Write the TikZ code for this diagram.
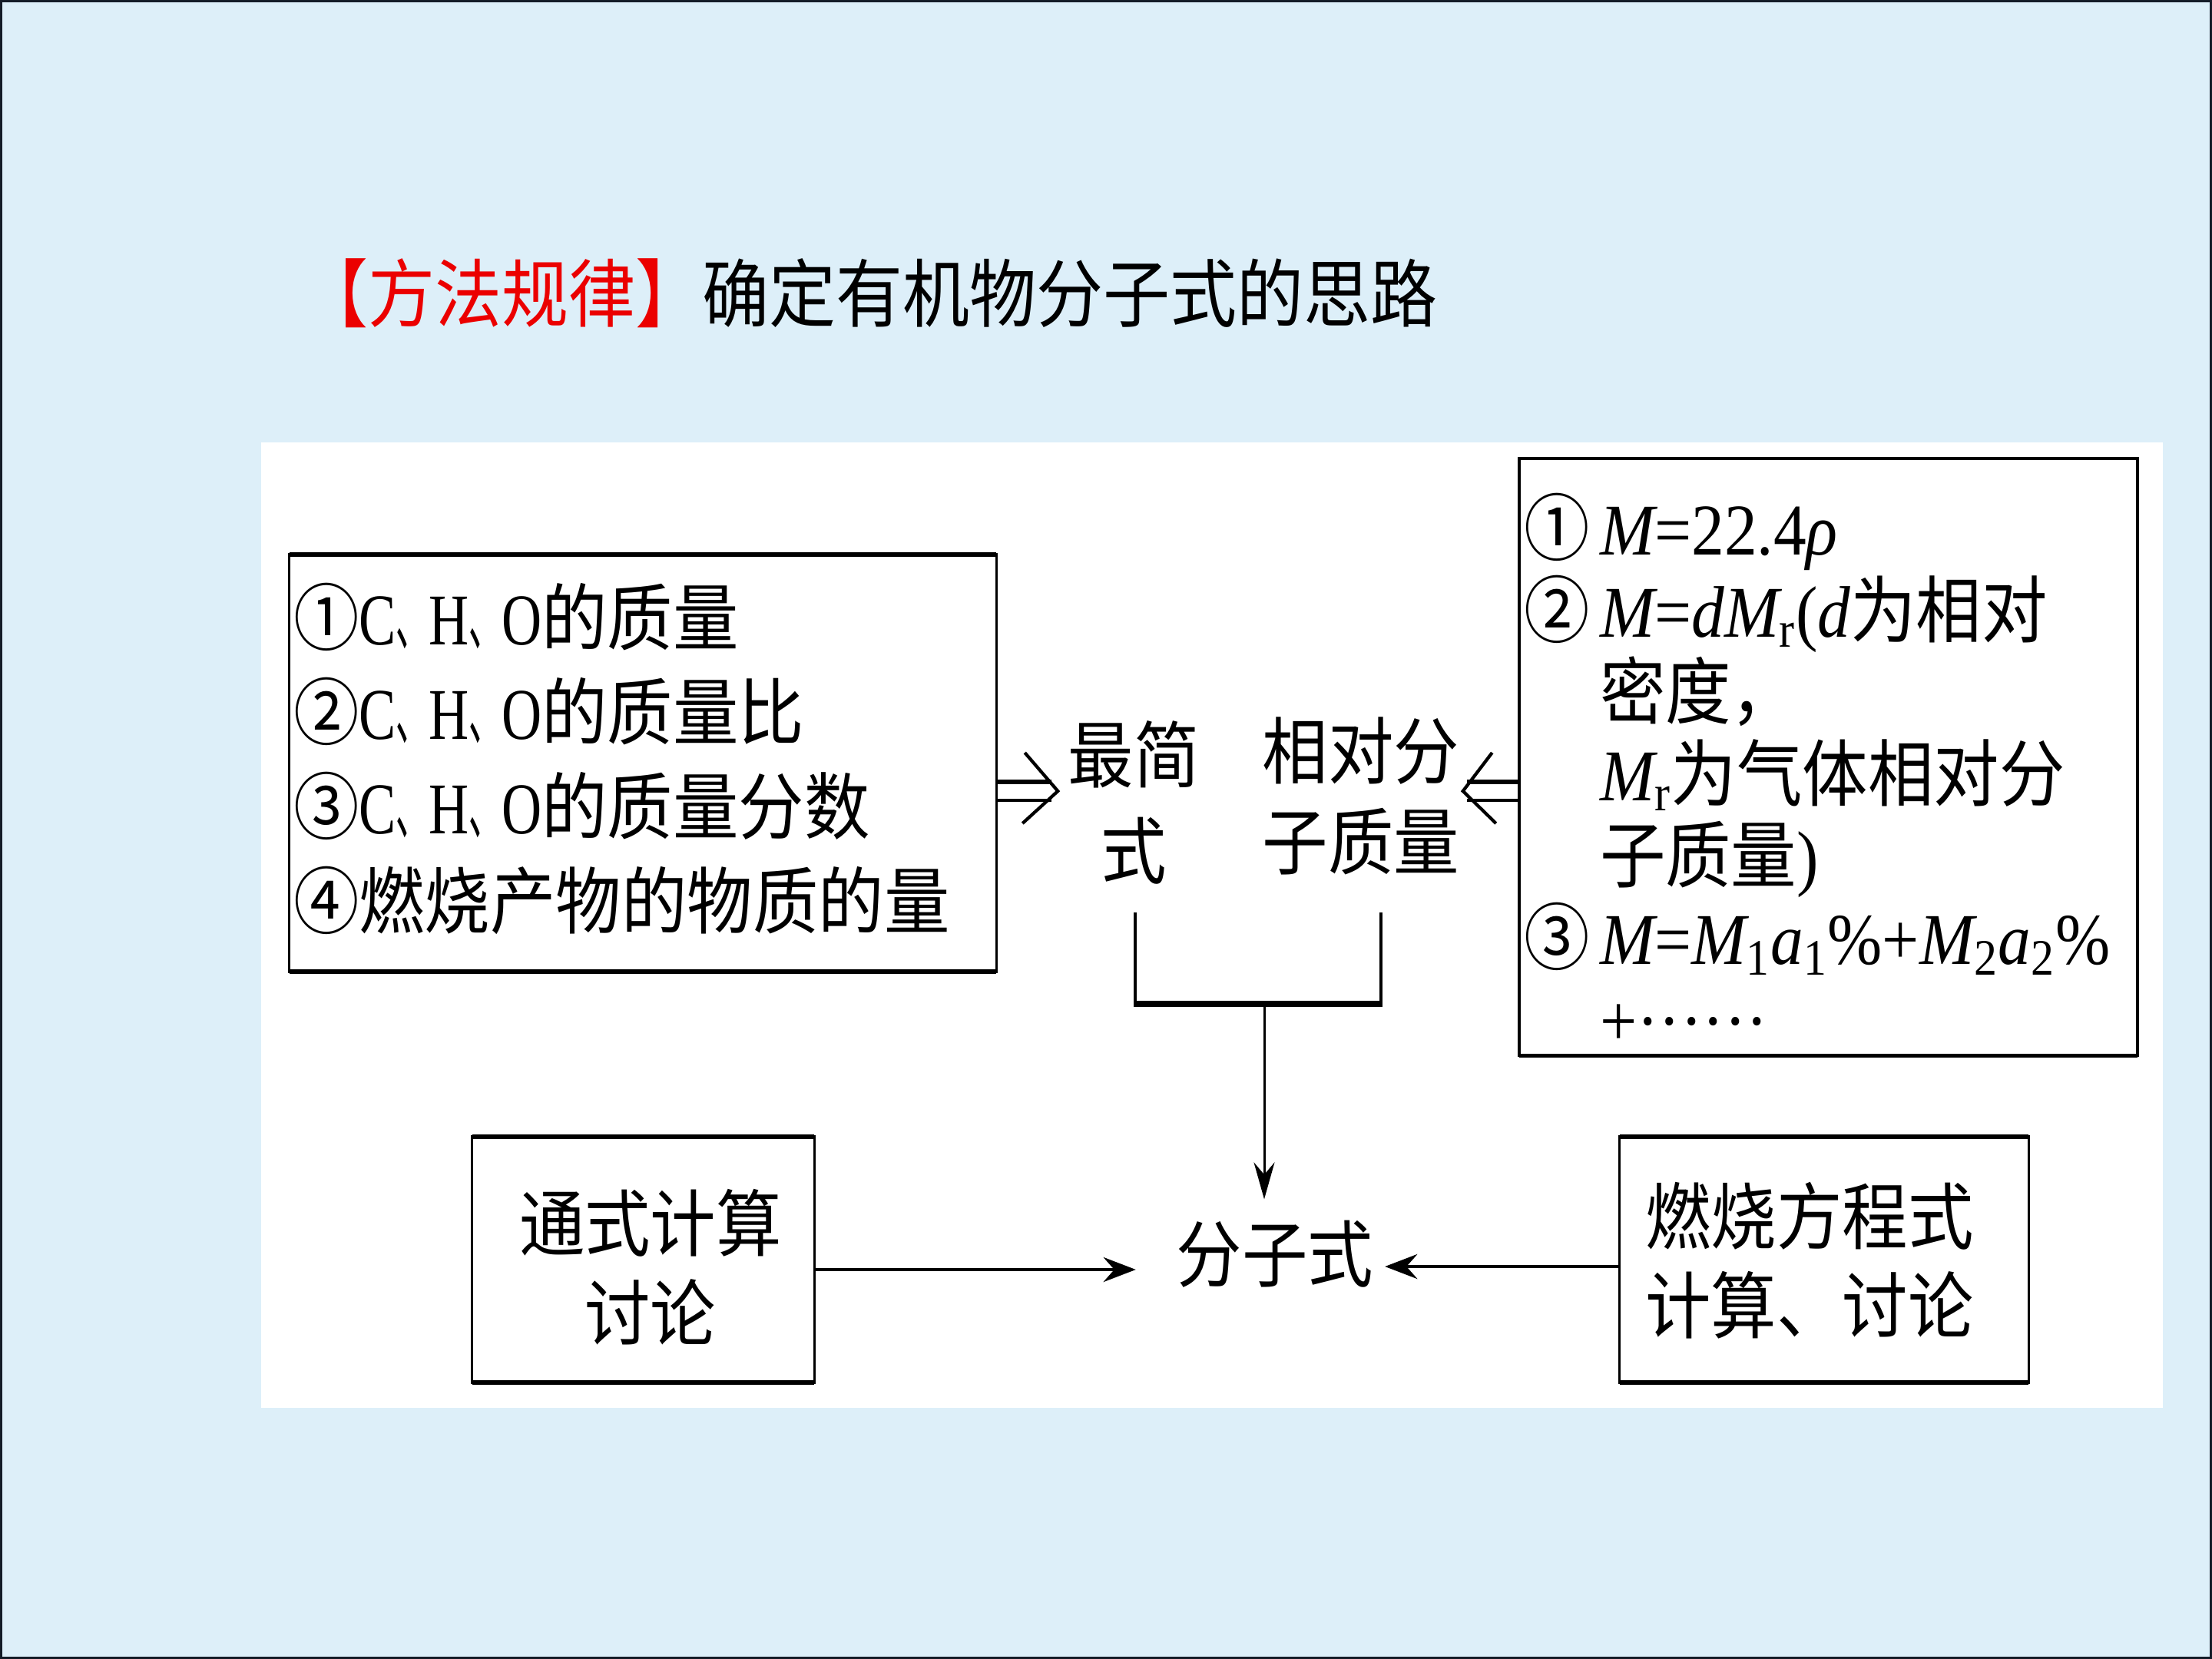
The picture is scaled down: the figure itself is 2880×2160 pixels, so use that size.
\documentclass[tikz,border=0pt]{standalone}
\usepackage{graphicx}
\usepackage{fontspec}
\setmainfont{Noto Sans CJK SC}[FakeStretch=0.9]
\newfontfamily\tm{Liberation Serif}[FakeStretch=0.9]
\newfontfamily\tmn{Liberation Serif}[FakeStretch=0.76]
\usetikzlibrary{arrows.meta}

\definecolor{pagebg}{RGB}{221,239,249}
\definecolor{titlered}{RGB}{235,0,0}
\definecolor{edge}{RGB}{20,28,40}

% italic quantity, upright Latin text, subscript, element letter, narrow enumeration comma
\newcommand\vi[1]{{\tm\itshape #1}}
\newcommand\up[1]{{\tm #1}}
\newcommand\sub[1]{\textsubscript{\tm #1}}
\newcommand\el[1]{{\tmn #1}}
\newcommand\dun{\scalebox{0.5}[1]{、}}
\newcommand\cnum[1]{\makebox[0.99cm][l]{#1}}

\tikzset{
  box/.style={draw, inner sep=0pt, outer sep=0pt, line width=1pt},
  txt/.style={inner sep=0pt, outer sep=0pt},
  arr/.style={line width=1.4pt, -{Stealth[length=0.42cm,width=0.32cm,inset=0.14cm]}},
  darr/.style={line width=0.85pt, -{Stealth[length=0.48cm,width=0.27cm,inset=0.16cm]}},
  thickedge/.style={line width=1.9pt},
}

\begin{document}
\begin{tikzpicture}[x=0.01cm, y=-0.01cm]
\useasboundingbox (0,0) rectangle (2880,2160);
\fill[pagebg] (0,0) rectangle (2880,2160);
\draw[edge, line width=0.9pt] (1.5,1.5) rectangle (2878.5,2158.5);
\fill[white] (340,576) rectangle (2816,1833);

% heading
\node[txt, anchor=west, font=\fontsize{27.5}{33}\selectfont] (title) at (392,382)
  {\textcolor{titlered}{【方法规律】}确定有机物分子式的思路};

% boxes
\node[box, minimum width=9.2cm, minimum height=5.43cm] (LB) at (837,993.5) {};
\node[box, minimum width=8.05cm, minimum height=7.77cm] (RB) at (2380.5,985.5) {};
\node[box, line width=0.85pt, minimum width=4.45cm, minimum height=3.2cm] (BL) at (837.5,1640) {};
\node[box, line width=0.85pt, minimum width=5.32cm, minimum height=3.2cm] (BR) at (2375,1640) {};
\draw[line width=1.6pt] (LB.north west) -- (LB.north east);
\draw[line width=1.6pt] (LB.south west) -- (LB.south east);
\draw[line width=1.3pt] (RB.south west) -- (RB.south east);
\draw[thickedge] (BL.north west) -- (BL.north east);
\draw[thickedge] (BL.south west) -- (BL.south east);
\draw[thickedge] (BR.north west) -- (BR.north east);
\draw[thickedge] (BR.south west) -- (BR.south east);

% box texts
\node[txt, anchor=west, align=left, font=\fontsize{27}{34.9}\selectfont] (LBt) at (382,988)
  {①\el{C}\dun\el{H}\dun\el{O}的质量\\
   ②\el{C}\dun\el{H}\dun\el{O}的质量比\\
   ③\el{C}\dun\el{H}\dun\el{O}的质量分数\\
   ④燃烧产物的物质的量};

\node[txt, anchor=west, align=left, font=\fontsize{27}{30.3}\selectfont] (RBt) at (1984,1002)
  {\cnum{①}\vi{M}\up{=22.4}\vi{ρ}\\
   \cnum{②}\vi{M}\up{=}\vi{dM}\sub{r}\up{(}\vi{d}为相对\\
   \hspace*{0.99cm}密度，\\
   \hspace*{0.99cm}\vi{M}\sub{r}为气体相对分\\
   \hspace*{0.99cm}子质量\up{)}\\
   \cnum{③}\vi{M}\up{=}\vi{M}\sub{1}\vi{a}\sub{1}\up{\%+}\vi{M}\sub{2}\vi{a}\sub{2}\up{\%}\\
   \hspace*{0.99cm}\up{+······}};

\node[txt, align=center, font=\fontsize{27}{35.6}\selectfont] (simp) at (1476,1045) {最简\\式};
\node[txt, align=center, font=\fontsize{27}{33.6}\selectfont] (relm) at (1772,1036) {相对分\\子质量};
\node[txt, align=center, font=\fontsize{27}{33.3}\selectfont] (BLt) at (847,1650) {通式计算\\讨论};
\node[txt, align=center, font=\fontsize{27}{33}\selectfont] (BRt) at (2356,1641) {燃烧方程式\\计算、讨论};
\node[txt, font=\fontsize{27}{33}\selectfont] (mol) at (1660,1633) {分子式};

% double arrows into the two middle items
\coordinate (la) at (LB.east |- 0,1030);
\draw[line width=1.6pt] ([yshift=0.12cm]la) -- ([xshift=0.72cm,yshift=0.12cm]la);
\draw[line width=1.1pt] ([yshift=-0.12cm]la) -- ([xshift=0.72cm,yshift=-0.12cm]la);
\draw[line width=1.2pt] ([xshift=0.37cm,yshift=0.5cm]la) -- ([xshift=0.80cm]la) -- ([xshift=0.34cm,yshift=-0.42cm]la);

\coordinate (ra) at (RB.west |- 0,1030);
\draw[line width=1.6pt] ([yshift=0.12cm]ra) -- ([xshift=-0.68cm,yshift=0.12cm]ra);
\draw[line width=1.1pt] ([yshift=-0.12cm]ra) -- ([xshift=-0.68cm,yshift=-0.12cm]ra);
\draw[line width=1.2pt] ([xshift=-0.35cm,yshift=0.5cm]ra) -- ([xshift=-0.73cm]ra) -- ([xshift=-0.30cm,yshift=-0.42cm]ra);

% bracket joining the two items, then down to the formula
\coordinate (j1) at (1478,1188);
\coordinate (j2) at (1798,1188);
\coordinate (jm) at (1646,1307);
\draw[line width=1.1pt] (j1) -- (j1 |- jm);
\draw[line width=1.1pt] (j2) -- (j2 |- jm);
\draw[line width=2pt] ([xshift=-0.5pt]j1 |- jm) -- ([xshift=0.5pt]j2 |- jm);
\coordinate (mT) at ([yshift=0.28cm]mol.north);
\draw[darr] (jm) -- (jm |- mT);

% side arrows
\coordinate (mL) at ([xshift=-0.53cm,yshift=-0.2cm]mol.west);
\coordinate (mR) at ([xshift=0.15cm,yshift=-0.16cm]mol.east);
\draw[arr] (BL.east |- mL) -- (mL);
\draw[arr] (BR.west |- mR) -- (mR);
\end{tikzpicture}
\end{document}
